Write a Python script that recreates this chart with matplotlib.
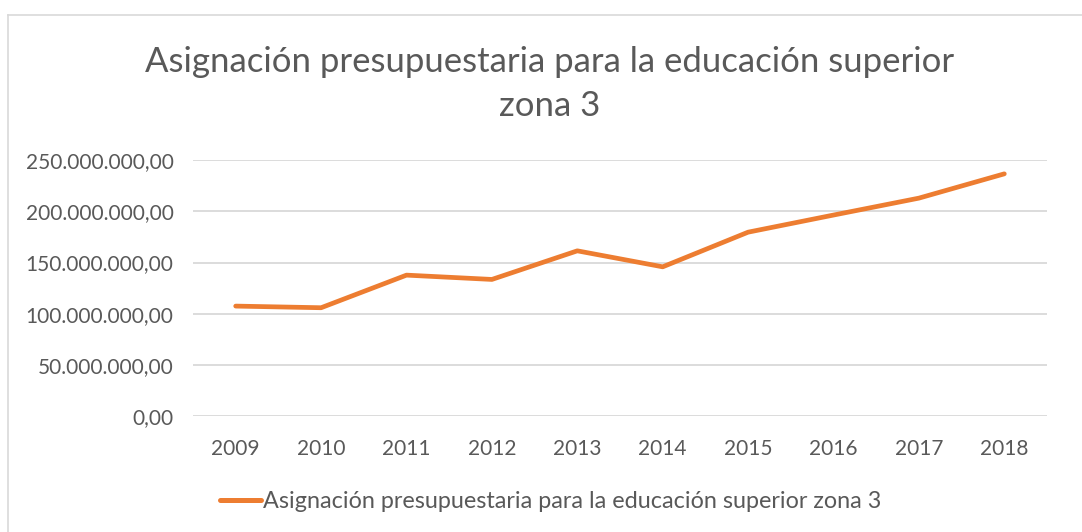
import matplotlib
matplotlib.use("Agg")
import matplotlib.pyplot as plt
from matplotlib.lines import Line2D
from matplotlib.ticker import FuncFormatter

years = ["2009", "2010", "2011", "2012", "2013", "2014", "2015", "2016", "2017", "2018"]
values = [107.5e6, 105.9e6, 137.7e6, 133.5e6, 161.4e6, 145.8e6, 179.6e6, 196.3e6, 212.8e6, 236.5e6]
series_name = "Asignación presupuestaria para la educación superior zona 3"
title = "Asignación presupuestaria para la educación superior\nzona 3"

plt.rcParams['font.family'] = ['Lato', 'DejaVu Sans']
TXT = "#595959"
ORANGE = "#ED7D31"

fig = plt.figure(figsize=(10.82, 5.32), dpi=100)
ax = fig.add_axes([193/1082, 1-416.3/532, (1047-193)/1082, (416.3-160)/532])

x = list(range(len(years)))
ax.plot(x, values, color=ORANGE, lw=3.4, solid_capstyle='round', solid_joinstyle='round')
ax.set_xlim(-0.5, len(years)-0.5)
ax.set_ylim(0, 250e6)
ax.set_yticks([0, 50e6, 100e6, 150e6, 200e6, 250e6])

def fmt(v, pos):
    s = f"{v:,.2f}"
    return s.replace(",", "X").replace(".", ",").replace("X", ".")
ax.yaxis.set_major_formatter(FuncFormatter(fmt))
ax.set_xticks(x)
ax.set_xticklabels(years)
ax.tick_params(axis='both', length=0, labelsize=15, colors=TXT)
ax.tick_params(axis='y', pad=14)
ax.tick_params(axis='x', pad=16)
ax.grid(axis='y', color="#D9D9D9", lw=1.3)
ax.set_axisbelow(True)
for s in ax.spines.values():
    s.set_visible(False)

fig.text(550/1082, 1-84/532, title, ha='center', va='center', fontsize=25, color=TXT, linespacing=1.45)

handle = Line2D([], [], color=ORANGE, lw=3.6, solid_capstyle='round')
fig.legend([handle], [series_name], loc='center', bbox_to_anchor=(551/1082, 1-502/532),
           frameon=False, fontsize=16.8, labelcolor=TXT, handlelength=1.75, handletextpad=0.1)

# chart border (top and left visible)
fig.add_artist(Line2D([8/1082, 8/1082], [0, 1-15/532], transform=fig.transFigure, color="#D9D9D9", lw=1.2))
fig.add_artist(Line2D([8/1082, 1], [1-15/532, 1-15/532], transform=fig.transFigure, color="#D9D9D9", lw=1.2))

fig.savefig("out.png", dpi=100, facecolor="white")
